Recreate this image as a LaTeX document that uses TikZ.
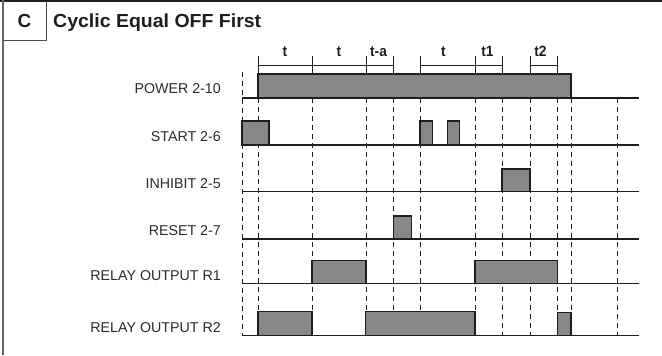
\documentclass[tikz,border=0pt]{standalone}
\usepackage{fontspec}
\setmainfont{Liberation Sans}
\definecolor{pulsegray}{HTML}{878787}
\definecolor{ink}{HTML}{1E1E1E}
\definecolor{labtext}{HTML}{2A2A2A}
\newcommand\hstretch[2]{\scalebox{#1}[1]{#2}}
\begin{document}
\begin{tikzpicture}[x=1bp,y=-1bp,
  sigline/.style={line width=1.4bp, draw=ink},
  pulse/.style={line width=1.8bp, draw=ink, fill=pulsegray},
  gridline/.style={line width=1bp, draw=ink, dash pattern=on 5bp off 4bp},
  tickline/.style={line width=1bp, draw=ink},
  lab/.style={anchor=base east, font=\fontsize{14.3}{16}\selectfont, text=labtext, inner sep=0pt},
  tlab/.style={anchor=base, font=\bfseries\fontsize{15}{16}\selectfont, text=ink, inner sep=0pt},
  ttl/.style={font=\bfseries\fontsize{19}{21}\selectfont, text=ink, inner sep=0pt}]
\useasboundingbox (0,0) rectangle (662,355);
% frame
\draw[line width=1.6bp, draw=ink] (0,1) -- (662,1);
\draw[line width=1.3bp, draw=black!60] (3,0) -- (3,355);
\draw[line width=1bp, draw=black!70] (3,40) -- (46,40) -- (46,1);
\node[ttl, anchor=base] (letter) at (24.5,27.5) {C};
\node[ttl, anchor=base west] (title) at (53,27.5) {\hstretch{1.03}{Cyclic Equal OFF First}};
% labels
\node[lab] (lpow) at (221,93) {POWER 2-10};
\node[lab] (lsta) at (221,141) {START 2-6};
\node[lab] (linh) at (221,188.5) {INHIBIT 2-5};
\node[lab] (lres) at (221,235.5) {RESET 2-7};
\node[lab] (lr1) at (221,280.5) {RELAY OUTPUT R1};
\node[lab] (lr2) at (221,332) {RELAY OUTPUT R2};
% dashed grid
\draw[gridline] (242,72) -- (242,335);
\foreach \x in {258,312,366,393.5,420,475,502,530,557,571,617}
  \draw[gridline] (\x,98) -- (\x,335);
% timing bar
\foreach \x in {258,312,366,393.5,420,475,502,530,557}
  \draw[tickline] (\x,56) -- (\x,74);
\draw[tickline] (258,65) -- (393.5,65);
\draw[tickline] (420,65) -- (502,65);
\draw[tickline] (530,65) -- (557,65);
\node[tlab] (t1l) at (285,56) {\hstretch{0.92}{t}};
\node[tlab] (t2l) at (339,56) {\hstretch{0.92}{t}};
\node[tlab] (tal) at (378.5,56) {\hstretch{0.92}{t-a}};
\node[tlab] (t3l) at (443.5,56) {\hstretch{0.92}{t}};
\node[tlab] (t4l) at (487.5,56) {\hstretch{0.92}{t1}};
\node[tlab] (t5l) at (540.5,56) {\hstretch{0.92}{t2}};
% POWER
\draw[sigline] (242,98) -- (639,98);
\draw[pulse] (258,98) rectangle (571,74);
% START
\draw[sigline] (242,145) -- (639,145);
\draw[pulse] (242,145) rectangle (269,121);
\draw[pulse] (420,145) rectangle (432.5,121);
\draw[pulse] (447.5,145) rectangle (459.5,121);
% INHIBIT
\draw[sigline] (242,191.5) -- (639,191.5);
\draw[pulse] (502,191.5) rectangle (530,169);
% RESET
\draw[sigline] (242,239) -- (639,239);
\draw[pulse] (393.5,239) rectangle (411.5,216);
% R1
\draw[sigline] (242,283.5) -- (639,283.5);
\draw[pulse] (312,283.5) rectangle (366,260.5);
\draw[pulse] (475,283.5) rectangle (557.5,260.5);
% R2
\draw[sigline] (242,335.5) -- (639,335.5);
\draw[pulse] (258,335.5) rectangle (312,311.5);
\draw[pulse] (365.5,335.5) rectangle (475,311.5);
\draw[pulse] (557.5,335.5) rectangle (571,312.5);
\end{tikzpicture}
\end{document}
